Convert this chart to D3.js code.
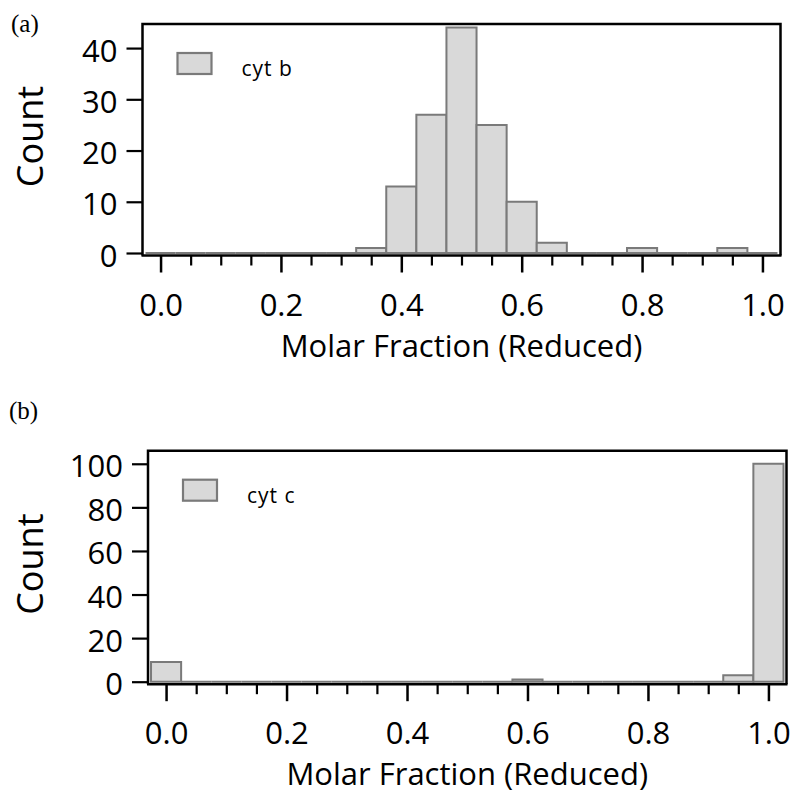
<!DOCTYPE html>
<html>
<head>
<meta charset="utf-8">
<script src="https://cdn.jsdelivr.net/npm/d3@7"></script>
<style>
  body { margin: 0; background: #fff; }
</style>
</head>
<body>
<script>
// bin centres of the histogram (bin width 0.05)
const binCenters = [0.00, 0.05, 0.10, 0.15, 0.20, 0.25, 0.30, 0.35, 0.40, 0.45, 0.50,
                    0.55, 0.60, 0.65, 0.70, 0.75, 0.80, 0.85, 0.90, 0.95, 1.00];
const binWidth = 0.05;
const cytbCounts = [0, 0, 0, 0, 0, 0, 0, 1, 13, 27, 44, 25, 10, 2, 0, 0, 1, 0, 0, 1, 0];
const cytcCounts = [9, 0, 0, 0, 0, 0, 0, 0, 0, 0, 0, 0, 1, 0, 0, 0, 0, 0, 0, 3, 100];

const xMajorTicks = [0, 0.2, 0.4, 0.6, 0.8, 1.0];
const xMinorTicks = [0.05, 0.10, 0.15, 0.25, 0.30, 0.35, 0.45, 0.50, 0.55,
                     0.65, 0.70, 0.75, 0.85, 0.90, 0.95];
const yTicksA = [0, 10, 20, 30, 40];
const yTicksB = [0, 20, 40, 60, 80, 100];

const xTitle = "Molar Fraction (Reduced)";
const yTitle = "Count";

const font = "'Open Sans', sans-serif";
const bar_fill = "#d9d9d9";
const bar_stroke = "#7a7a7a";

const svg = d3.select("body").append("svg")
  .attr("width", 793)
  .attr("height", 796);

// panel layout (pixel boxes for each plot frame)
const panels = [
  {tag: "(a)", tagPos: [11, 32], name: "cyt b", counts: cytbCounts, yTicks: yTicksA,
   yMax: 44.7, box: {left: 142.5, right: 780.5, top: 24, bottom: 253}},
  {tag: "(b)", tagPos: [9, 419], name: "cyt c", counts: cytcCounts, yTicks: yTicksB,
   yMax: 106, box: {left: 148, right: 786.5, top: 450.7, bottom: 681.7}}
];

panels.forEach(p => drawPanel(p));

function drawPanel(p) {
  const b = p.box;
  const g = svg.append("g");

  const x = d3.scaleLinear().domain([-0.03, 1.03]).range([b.left, b.right]);
  const y = d3.scaleLinear().domain([0, p.yMax]).range([b.bottom, b.top]);
  const axisY = b.bottom + 2.5;

  // bars (zero bins still drawn as a flat outline)
  const bins = binCenters.map((c, i) => ({c, n: p.counts[i]}));
  g.append("g")
    .selectAll("path")
    .data(bins)
    .enter().append("path")
      .attr("d", d => {
        const x0 = x(d.c - binWidth / 2), x1 = x(d.c + binWidth / 2);
        return `M${x0},${y(0)}V${y(d.n)}H${x1}V${y(0)}Z`;
      })
      .attr("fill", bar_fill)
      .attr("stroke", bar_stroke)
      .attr("stroke-width", 2);

  // frame: top, right, left lines
  g.append("path")
    .attr("d", `M${b.left},${axisY}V${b.top}H${b.right}V${axisY}`)
    .attr("fill", "none")
    .attr("stroke", "#000")
    .attr("stroke-width", 2.5);

  // y axis
  const yAxis = g.append("g")
    .attr("transform", `translate(${b.left},0)`)
    .call(d3.axisLeft(y).tickValues(p.yTicks).tickSize(16).tickPadding(9));
  yAxis.select(".domain").remove();
  yAxis.selectAll(".tick line").attr("stroke-width", 2.2);
  yAxis.selectAll("text")
    .attr("dy", "0.42em")
    .style("font-family", font)
    .style("font-size", "31px")
    .attr("fill", "#000");

  // x axis, minor then major ticks
  const xMinor = g.append("g")
    .attr("transform", `translate(0,${axisY})`)
    .call(d3.axisBottom(x).tickValues(xMinorTicks).tickSize(10).tickFormat(""));
  xMinor.select(".domain").remove();
  xMinor.selectAll(".tick line").attr("stroke-width", 2.2);

  const xMajor = g.append("g")
    .attr("transform", `translate(0,${axisY})`)
    .call(d3.axisBottom(x).tickValues(xMajorTicks).tickSize(17).tickFormat(d3.format(".1f")));
  xMajor.select(".domain").remove();
  xMajor.selectAll(".tick line").attr("stroke-width", 2.5);
  xMajor.selectAll("text")
    .attr("y", 60)
    .attr("dy", null)
    .style("font-family", font)
    .style("font-size", "31px")
    .attr("fill", "#000");

  g.append("line")
    .attr("x1", b.left - 1).attr("x2", b.right + 1)
    .attr("y1", axisY).attr("y2", axisY)
    .attr("stroke", "#000")
    .attr("stroke-width", 2.5);

  // axis titles
  g.append("text")
    .attr("x", (b.left + b.right) / 2)
    .attr("y", axisY + 101)
    .attr("text-anchor", "middle")
    .style("font-family", font)
    .style("font-size", "31px")
    .text(xTitle);

  g.append("text")
    .attr("transform", `translate(43,${(b.top + b.bottom) / 2 - 2}) rotate(-90)`)
    .attr("text-anchor", "middle")
    .style("font-family", font)
    .style("font-size", "36px")
    .text(yTitle);

  // legend
  const lg = g.append("g")
    .attr("transform", `translate(${b.left + 35},${b.top + 29})`);
  lg.append("rect")
    .attr("width", 34).attr("height", 21)
    .attr("fill", bar_fill)
    .attr("stroke", bar_stroke)
    .attr("stroke-width", 2.2);
  lg.append("text")
    .attr("x", 64)
    .attr("y", 23)
    .style("font-family", font)
    .style("font-size", "21px")
    .style("letter-spacing", "1px")
    .text(p.name);

  // panel tag
  svg.append("text")
    .attr("x", p.tagPos[0])
    .attr("y", p.tagPos[1])
    .style("font-family", "'Liberation Serif', serif")
    .style("font-size", "25px")
    .text(p.tag);
}
</script>
</body>
</html>
